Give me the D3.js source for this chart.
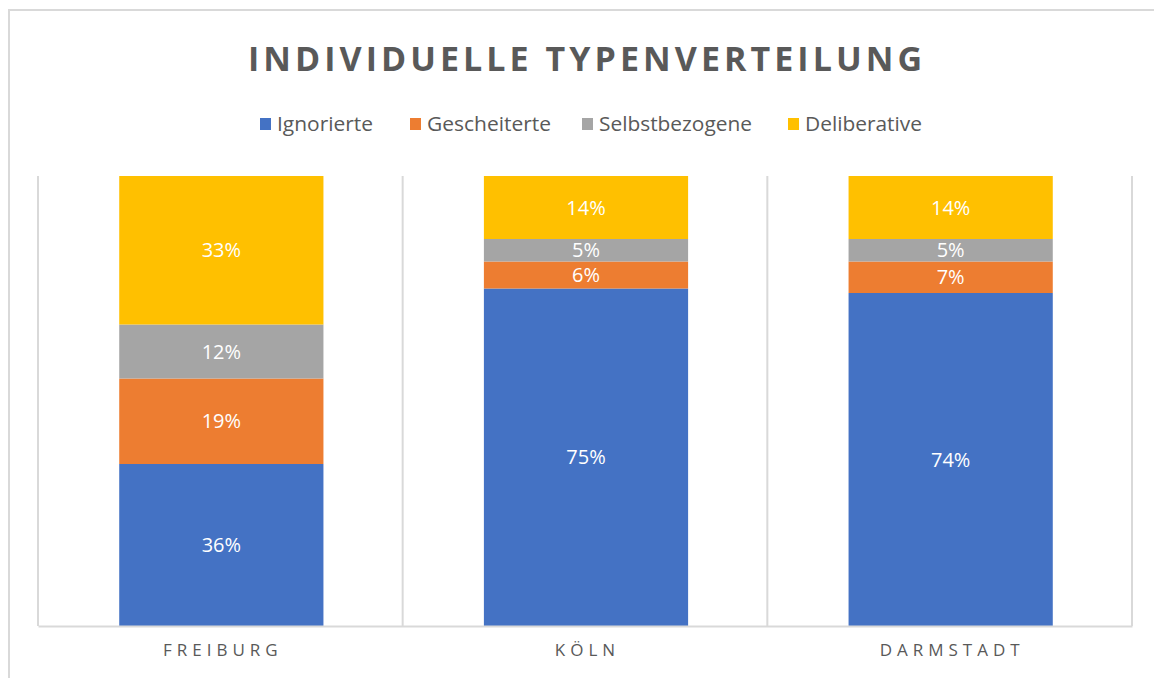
<!DOCTYPE html>
<html>
<head>
<meta charset="utf-8">
<script src="https://cdn.jsdelivr.net/npm/d3@7"></script>
<style>
  body { margin: 0; background: #fff; }
  svg { display: block; font-family: "Open Sans", "Liberation Sans", sans-serif; }
</style>
</head>
<body>
<svg></svg>
<script>
// data
const cities = ["FREIBURG", "KÖLN", "DARMSTADT"];
const types = ["Ignorierte", "Gescheiterte", "Selbstbezogene", "Deliberative"];
const ignorierte = [36, 75, 74];
const gescheiterte = [19, 6, 7];
const selbstbezogene = [12, 5, 5];
const deliberative = [33, 14, 14];
const colors = ["#4472C4", "#ED7D31", "#A5A5A5", "#FFC000"];

const W = 1154, H = 678;
const margin = { top: 176, right: 22, bottom: 52, left: 38 };
const width = W - margin.left - margin.right;
const height = H - margin.top - margin.bottom;

const svg = d3.select("svg").attr("width", W).attr("height", H);

// outer frame (only top/left visible)
svg.append("path")
    .attr("d", `M9,${H + 5} V10 H${W + 5}`)
    .attr("fill", "none")
    .attr("stroke", "#D9D9D9")
    .attr("stroke-width", 2);

// title
svg.append("text")
    .attr("x", 585).attr("y", 71)
    .attr("text-anchor", "middle")
    .attr("textLength", 674)
    .attr("lengthAdjust", "spacing")
    .attr("font-size", 34)
    .attr("font-weight", "bold")
    .attr("fill", "#595959")
    .text("INDIVIDUELLE TYPENVERTEILUNG");

// legend
const legendX = [260, 410, 582, 788];
const legendW = [96, 124, 153, 117];
const legend = svg.append("g");
types.forEach((t, i) => {
    const g = legend.append("g").attr("transform", `translate(${legendX[i]}, 124)`);
    g.append("rect").attr("x", 0).attr("y", -6).attr("width", 11).attr("height", 12).attr("fill", colors[i]);
    g.append("text").attr("x", 17).attr("y", 7)
        .attr("font-size", 20).attr("fill", "#595959")
        .attr("textLength", legendW[i]).attr("lengthAdjust", "spacingAndGlyphs")
        .text(t);
});

const plot = svg.append("g").attr("transform", `translate(${margin.left}, ${margin.top})`);

const x = d3.scaleBand().domain(cities).range([0, width]).paddingInner(0).paddingOuter(0);
const y = d3.scaleLinear().domain([0, 100]).range([height, 0]);

// stack data
const table = cities.map((c, i) => ({
    city: c,
    Ignorierte: ignorierte[i],
    Gescheiterte: gescheiterte[i],
    Selbstbezogene: selbstbezogene[i],
    Deliberative: deliberative[i]
}));
const series = d3.stack().keys(types)(table);

// gridlines / category separators
plot.selectAll(".sep")
    .data(d3.range(cities.length + 1))
    .join("line")
    .attr("x1", i => i * x.bandwidth())
    .attr("x2", i => i * x.bandwidth())
    .attr("y1", 0).attr("y2", height)
    .attr("stroke", "#D9D9D9").attr("stroke-width", 2);

const barW = x.bandwidth() * 0.56;
const off = (x.bandwidth() - barW) / 2 + 1;

const layers = plot.selectAll(".layer")
    .data(series)
    .join("g")
    .attr("fill", (d, i) => colors[i]);

layers.selectAll("rect")
    .data(d => d)
    .join("rect")
    .attr("x", d => x(d.data.city) + off)
    .attr("width", barW)
    .attr("y", d => y(d[1]))
    .attr("height", d => y(d[0]) - y(d[1]));

layers.selectAll("text")
    .data(d => d)
    .join("text")
    .attr("x", d => x(d.data.city) + off + barW / 2)
    .attr("y", d => (y(d[0]) + y(d[1])) / 2 + 7)
    .attr("text-anchor", "middle")
    .attr("font-size", 20)
    .attr("fill", "#fff")
    .text(d => (d[1] - d[0]) + "%");

// x axis
const xAxis = plot.append("g")
    .attr("transform", `translate(0, ${height})`)
    .call(d3.axisBottom(x).tickSize(0).tickPadding(18));
xAxis.select(".domain").attr("stroke", "#D9D9D9").attr("stroke-width", 2);
xAxis.selectAll("text")
    .attr("font-size", 17)
    .attr("fill", "#595959")
    .attr("letter-spacing", "5px")
    .attr("font-family", "\"Open Sans\", sans-serif")
    .attr("dx", "2.5px");
</script>
</body>
</html>
